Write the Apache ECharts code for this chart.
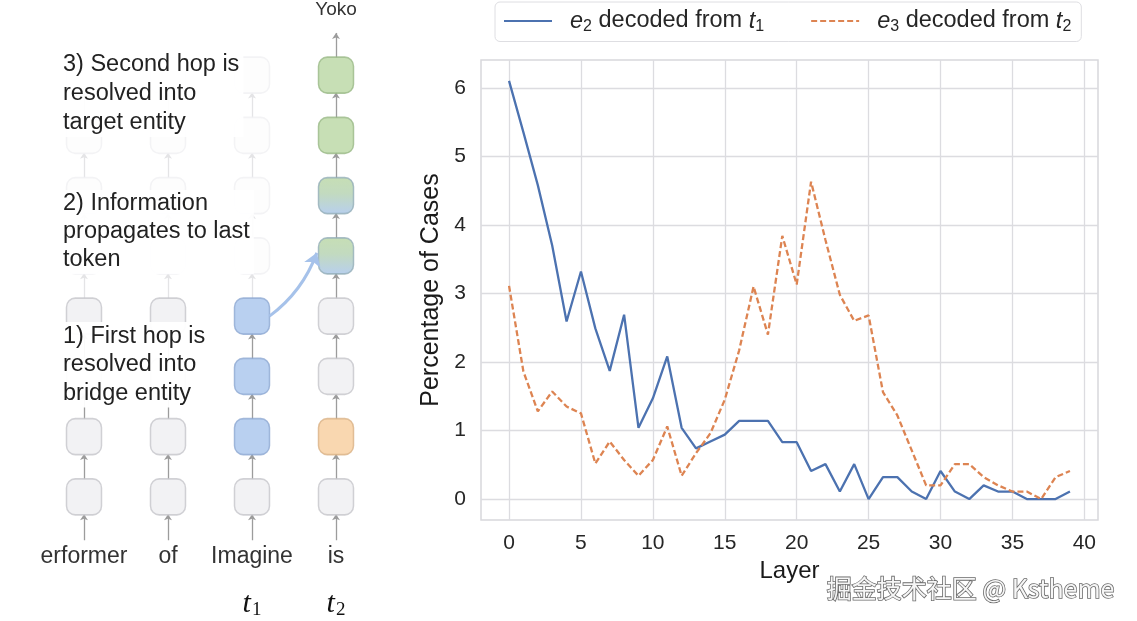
<!DOCTYPE html>
<html>
<head>
<meta charset="utf-8">
<script src="https://cdn.jsdelivr.net/npm/echarts@6/dist/echarts.min.js"></script>
<style>
  html, body { margin: 0; padding: 0; background: #fff; }
  #main { width: 1137px; height: 621px; }
</style>
</head>
<body>
<div id="main"></div>
<script>
// line chart data (percentage of cases per layer)
var layers = [0, 1, 2, 3, 4, 5, 6, 7, 8, 9, 10, 11, 12, 13, 14, 15, 16, 17, 18, 19,
  20, 21, 22, 23, 24, 25, 26, 27, 28, 29, 30, 31, 32, 33, 34, 35, 36, 37, 38, 39];
var e2FromT1 = [6.1, 5.35, 4.58, 3.7, 2.59, 3.32, 2.49, 1.87, 2.69, 1.04,
  1.47, 2.08, 1.04, 0.74, 0.84, 0.94, 1.14, 1.14, 1.14, 0.83,
  0.83, 0.41, 0.51, 0.11, 0.51, 0, 0.32, 0.32, 0.11, 0,
  0.41, 0.11, 0, 0.2, 0.11, 0.11, 0, 0, 0, 0.11];
var e3FromT2 = [3.11, 1.86, 1.28, 1.57, 1.35, 1.25, 0.52, 0.84, 0.57, 0.34,
  0.57, 1.06, 0.34, 0.67, 0.96, 1.45, 2.17, 3.1, 2.4, 3.84,
  3.13, 4.63, 3.78, 2.98, 2.6, 2.68, 1.56, 1.22, 0.71, 0.2,
  0.2, 0.51, 0.51, 0.32, 0.2, 0.11, 0.11, 0, 0.32, 0.41];
var xTicks = [0, 5, 10, 15, 20, 25, 30, 35, 40];
var yTicks = [0, 1, 2, 3, 4, 5, 6];

// diagram data
var tokens = ['erformer', 'of', 'Imagine', 'is'];
var tokenMarks = ['', '', 't1', 't2'];
var outputs = ['', '', '', 'Yoko'];
// rows from the bottom layer up, one code per token column
var cellRows = [
  ['gray', 'gray', 'gray', 'gray'],
  ['gray', 'gray', 'blue', 'orange'],
  ['gray', 'gray', 'blue', 'gray'],
  ['gray', 'gray', 'blue', 'gray'],
  ['faint', 'faint', 'faint', 'mix'],
  ['faint', 'faint', 'faint', 'mix'],
  ['faint', 'faint', 'faint', 'green'],
  ['faint', 'faint', 'faint', 'green']
];
var notes = [
  '3) Second hop is\nresolved into\ntarget entity',
  '2) Information\npropagates to last\ntoken',
  '1) First hop is\nresolved into\nbridge entity'
];

var blue = '#4c72b0', orange = '#dd8452';
var cellStyles = {
  gray: { color: '#efeff1', borderColor: '#c6c6ca' },
  blue: { color: '#a8c4ec', borderColor: '#8ea9d2' },
  orange: { color: '#f7cd9c', borderColor: '#d9b286' },
  green: { color: '#b9d7a3', borderColor: '#9ab987' },
  mix: {
    color: { type: 'linear', x: 0, y: 0, x2: 0, y2: 1,
      colorStops: [{ offset: 0, color: '#b8d6a2' }, { offset: 0.45, color: '#b3d1b0' }, { offset: 1, color: '#a6c3ea' }] },
    borderColor: '#94aeb8'
  },
  faint: { color: '#fdfdfd', borderColor: '#f0f0f2' }
};

var boxW = 35, boxH = 36, rowPx = 62, colPx = 84;
var halfH = boxH / 2 / rowPx;
var halfW = boxW / 2 / colPx;

var boxes = [];
var stubs = [];
cellRows.forEach(function (row, r) {
  row.forEach(function (code, c) {
    boxes.push({ value: [c, r], itemStyle: cellStyles[code] });
    var from = r === 0 ? -0.72 : r - 1 + halfH;
    stubs.push({
      coords: [[c, from], [c, r - halfH]],
      lineStyle: { color: code === 'faint' ? '#e4e4e6' : '#9c9c9c' }
    });
  });
});
// arrow to the output word
stubs.push({ coords: [[3, 7 + halfH], [3, 7.7]], lineStyle: { color: '#9c9c9c' } });

var chart = echarts.init(document.getElementById('main'));
var FONT = 'Liberation Sans';

var option = {
  animation: false,
  backgroundColor: '#fff',
  textStyle: { fontFamily: FONT },
  legend: {
    left: 495,
    top: 2,
    padding: [7, 10, 7, 8],
    itemWidth: 48,
    itemHeight: 14,
    itemGap: 46,
    itemStyle: { opacity: 0 },
    borderColor: '#dedee2',
    borderWidth: 1,
    borderRadius: 5,
    backgroundColor: '#fff',
    data: ['e2 decoded from t1', 'e3 decoded from t2'],
    formatter: function (name) {
      var p = name.split(' ');
      return '{g|}{i|' + p[0][0] + '}{s|' + p[0][1] + '}{n| decoded from }{i|' + p[3][0] + '}{s|' + p[3][1] + '}';
    },
    textStyle: {
      fontFamily: FONT,
      fontSize: 23.5,
      color: '#262626',
      rich: {
        g: { width: 13 },
        i: { fontSize: 23.5, fontStyle: 'italic', color: '#262626' },
        n: { fontSize: 23.5, color: '#262626' },
        s: { fontSize: 16, color: '#262626', padding: [11, 0, 0, 0] }
      }
    }
  },
  grid: [
    { left: 481, top: 60, right: 39, bottom: 101, show: true, borderColor: '#d8d8dc', borderWidth: 1.5, containLabel: false },
    { left: 42, top: 31, width: 336, height: 496, containLabel: false }
  ],
  xAxis: [
    {
      gridIndex: 0, type: 'value', min: -1.95, max: 40.95,
      name: 'Layer', nameLocation: 'middle', nameGap: 37,
      nameTextStyle: { fontSize: 24, color: '#1a1a1a', fontFamily: FONT },
      axisLine: { show: false, onZero: false },
      axisTick: { show: false, customValues: xTicks },
      axisLabel: { customValues: xTicks, fontSize: 21, color: '#262626', margin: 13, fontFamily: FONT },
      splitLine: { show: true, lineStyle: { color: '#dcdce0', width: 1.3 } }
    },
    {
      gridIndex: 1, type: 'value', min: -0.5, max: 3.5, show: false,
      axisLine: { onZero: false }
    },
    {
      gridIndex: 1, type: 'category', data: tokens, position: 'bottom',
      axisLine: { show: false, onZero: false }, axisTick: { show: false },
      axisLabel: { fontSize: 23, color: '#333', margin: 18, interval: 0, fontFamily: FONT }
    },
    {
      gridIndex: 1, type: 'category', data: tokenMarks, position: 'bottom', offset: 48,
      axisLine: { show: false, onZero: false }, axisTick: { show: false },
      axisLabel: {
        interval: 0, margin: 14,
        formatter: function (v) { return v ? '{t|' + v[0] + '}{s|' + v[1] + '}' : ''; },
        rich: {
          t: { fontFamily: 'Liberation Serif', fontStyle: 'italic', fontSize: 30, color: '#111' },
          s: { fontFamily: 'Liberation Serif', fontSize: 19, color: '#111', padding: [12, 0, 0, 1] }
        }
      }
    },
    {
      gridIndex: 1, type: 'category', data: outputs, position: 'top',
      axisLine: { show: false, onZero: false }, axisTick: { show: false },
      axisLabel: { fontSize: 19, color: '#333', margin: 26, interval: 0, fontFamily: FONT }
    }
  ],
  yAxis: [
    {
      gridIndex: 0, type: 'value', min: -0.305, max: 6.405,
      name: 'Percentage of Cases', nameLocation: 'middle', nameGap: 34,
      nameTextStyle: { fontSize: 25, color: '#1a1a1a', fontFamily: FONT },
      axisLine: { show: false, onZero: false },
      axisTick: { show: false, customValues: yTicks },
      axisLabel: { customValues: yTicks, fontSize: 21, color: '#262626', margin: 15, fontFamily: FONT },
      splitLine: { show: true, lineStyle: { color: '#dcdce0', width: 1.3 } }
    },
    {
      gridIndex: 1, type: 'value', min: -0.5, max: 7.5, show: false,
      axisLine: { onZero: false }
    }
  ],
  series: [
    {
      name: 'e2 decoded from t1', type: 'line', xAxisIndex: 0, yAxisIndex: 0,
      data: layers.map(function (l, i) { return [l, e2FromT1[i]]; }),
      symbol: 'none', color: blue,
      lineStyle: { color: blue, width: 2.3 }
    },
    {
      name: 'e3 decoded from t2', type: 'line', xAxisIndex: 0, yAxisIndex: 0,
      data: layers.map(function (l, i) { return [l, e3FromT2[i]]; }),
      symbol: 'none', color: orange,
      lineStyle: { color: orange, width: 2.3, type: [6, 3] }
    },
    {
      type: 'lines', coordinateSystem: 'cartesian2d', xAxisIndex: 1, yAxisIndex: 1,
      clip: false, silent: true,
      symbol: ['none', 'arrow'], symbolSize: 6,
      lineStyle: { width: 1.3, opacity: 1 },
      data: stubs, z: 1
    },
    {
      type: 'scatter', xAxisIndex: 1, yAxisIndex: 1, silent: true,
      symbol: 'roundRect', symbolSize: [boxW, boxH],
      itemStyle: { borderWidth: 1.5 },
      data: boxes, z: 3
    },
    {
      type: 'lines', coordinateSystem: 'cartesian2d', xAxisIndex: 1, yAxisIndex: 1,
      clip: false, silent: true,
      symbol: ['none', 'arrow'], symbolSize: 13,
      lineStyle: { color: '#a6c2ea', width: 3, curveness: -0.15, opacity: 1 },
      data: [{ coords: [[2 + halfW, 3], [3 - halfW - 0.02, 4.05]] }], z: 4
    }
  ],
  graphic: [
    {
      type: 'text', left: 58, top: 50, z: 100,
      style: { text: notes[0], font: '23.5px "Liberation Sans"', lineHeight: 29, fill: '#222',
        backgroundColor: 'rgba(255,255,255,0.92)', padding: [0, 4, 0, 5] }
    },
    {
      type: 'text', left: 58, top: 190, z: 100,
      style: { text: notes[1], font: '23.5px "Liberation Sans"', lineHeight: 28, fill: '#222',
        backgroundColor: 'rgba(255,255,255,0.92)', padding: [0, 4, 0, 5] }
    },
    {
      type: 'text', left: 58, top: 322, z: 100,
      style: { text: notes[2], font: '23.5px "Liberation Sans"', lineHeight: 28.5, fill: '#222',
        backgroundColor: 'rgba(255,255,255,0.95)', padding: [0, 4, 0, 5] }
    },
    {
      type: 'text', left: 826, top: 575, z: 100,
      style: { text: '掘金技术社区 @ Kstheme', font: '25px "Noto Sans CJK SC"', fill: '#f6f6f6',
        stroke: '#6a6a6a', lineWidth: 1.6 }
    }
  ]
};

chart.setOption(option);
</script>
</body>
</html>
